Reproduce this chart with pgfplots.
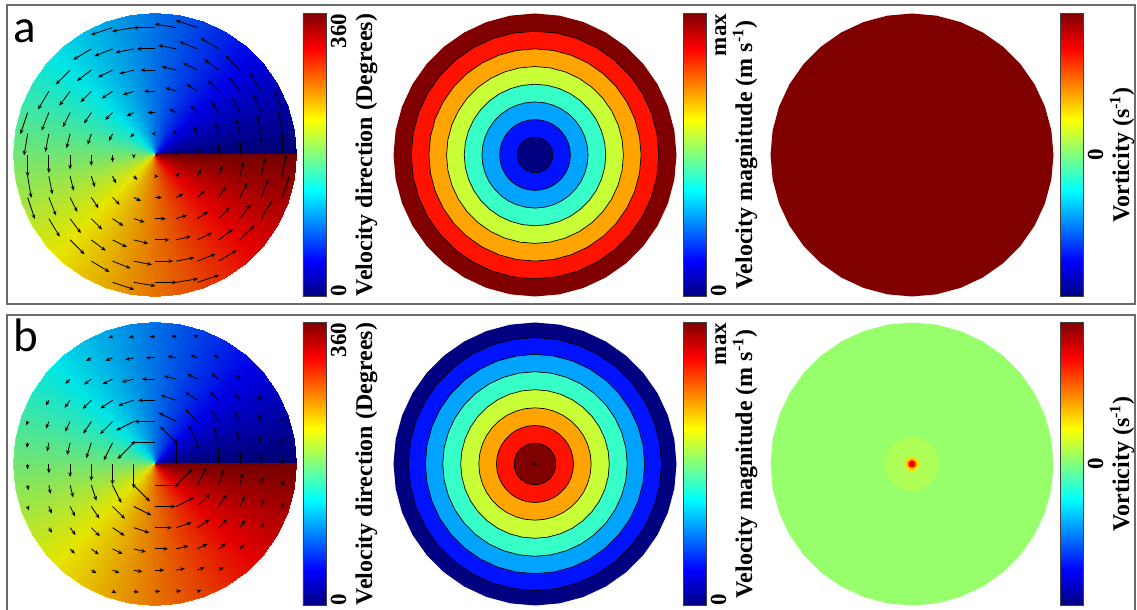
\documentclass[border=0pt]{standalone}
\usepackage{pgfplots}
\pgfplotsset{compat=1.18}
\usepackage{pgfplotstable}
\usepgfplotslibrary{patchplots}
\usetikzlibrary{arrows.meta}
\usepackage{fontspec}
\setmainfont{Liberation Serif}
\newfontfamily\letterfont{Carlito}

% jet colours of the eight contour levels (0 = lowest, 7 = highest)
\definecolor{lev0}{rgb}{0,0,0.5}
\definecolor{lev1}{rgb}{0,0.07,1}
\definecolor{lev2}{rgb}{0,0.643,1}
\definecolor{lev3}{rgb}{0.214,1,0.786}
\definecolor{lev4}{rgb}{0.786,1,0.214}
\definecolor{lev5}{rgb}{1,0.643,0}
\definecolor{lev6}{rgb}{1,0.07,0}
\definecolor{lev7}{rgb}{0.5,0,0}
\definecolor{vortzero}{rgb}{0.59,1,0.42}
\definecolor{vorthalo}{rgb}{0.68,1,0.34}
\definecolor{framegray}{rgb}{0.42,0.42,0.42}

\newcommand\titlefont{\fontsize{12}{14}\selectfont\bfseries}
\newcommand\tickfont{\fontsize{11.5}{14}\selectfont\bfseries}

% unit circle
\pgfplotstableread{
c s
1 0
0.9848 0.1736
0.9397 0.3420
0.8660 0.5
0.7660 0.6428
0.6428 0.7660
0.5 0.8660
0.3420 0.9397
0.1736 0.9848
0 1
-0.1736 0.9848
-0.3420 0.9397
-0.5 0.8660
-0.6428 0.7660
-0.7660 0.6428
-0.8660 0.5
-0.9397 0.3420
-0.9848 0.1736
-1 0
-0.9848 -0.1736
-0.9397 -0.3420
-0.8660 -0.5
-0.7660 -0.6428
-0.6428 -0.7660
-0.5 -0.8660
-0.3420 -0.9397
-0.1736 -0.9848
0 -1
0.1736 -0.9848
0.3420 -0.9397
0.5 -0.8660
0.6428 -0.7660
0.7660 -0.6428
0.8660 -0.5
0.9397 -0.3420
0.9848 -0.1736
1 0
}\circtab

% direction field: inner row and rim row, meta = direction in degrees
\pgfplotstableread{
x y m
0.01 0 0
0.0098 0.0017 10
0.0094 0.0034 20
0.0087 0.005 30
0.0077 0.0064 40
0.0064 0.0077 50
0.005 0.0087 60
0.0034 0.0094 70
0.0017 0.0098 80
0 0.01 90
-0.0017 0.0098 100
-0.0034 0.0094 110
-0.005 0.0087 120
-0.0064 0.0077 130
-0.0077 0.0064 140
-0.0087 0.005 150
-0.0094 0.0034 160
-0.0098 0.0017 170
-0.01 0 180
-0.0098 -0.0017 190
-0.0094 -0.0034 200
-0.0087 -0.005 210
-0.0077 -0.0064 220
-0.0064 -0.0077 230
-0.005 -0.0087 240
-0.0034 -0.0094 250
-0.0017 -0.0098 260
0 -0.01 270
0.0017 -0.0098 280
0.0034 -0.0094 290
0.005 -0.0087 300
0.0064 -0.0077 310
0.0077 -0.0064 320
0.0087 -0.005 330
0.0094 -0.0034 340
0.0098 -0.0017 350
0.01 0 360
1 0 0
0.9848 0.1736 10
0.9397 0.3420 20
0.8660 0.5 30
0.7660 0.6428 40
0.6428 0.7660 50
0.5 0.8660 60
0.3420 0.9397 70
0.1736 0.9848 80
0 1 90
-0.1736 0.9848 100
-0.3420 0.9397 110
-0.5 0.8660 120
-0.6428 0.7660 130
-0.7660 0.6428 140
-0.8660 0.5 150
-0.9397 0.3420 160
-0.9848 0.1736 170
-1 0 180
-0.9848 -0.1736 190
-0.9397 -0.3420 200
-0.8660 -0.5 210
-0.7660 -0.6428 220
-0.6428 -0.7660 230
-0.5 -0.8660 240
-0.3420 -0.9397 250
-0.1736 -0.9848 260
0 -1 270
0.1736 -0.9848 280
0.3420 -0.9397 290
0.5 -0.8660 300
0.6428 -0.7660 310
0.7660 -0.6428 320
0.8660 -0.5 330
0.9397 -0.3420 340
0.9848 -0.1736 350
1 0 360
}\dirtab

% velocity vectors: (ua,va) solid-body rotation, (ub,vb) concentrated vortex
\pgfplotstableread{
x y ua va ub vb
-0.9 -0.3 2 -6 0.062 -0.185
-0.9 -0.15 1 -6 0.039 -0.235
-0.9 0 0 -6 0 -0.253
-0.9 0.15 -1 -6 -0.039 -0.235
-0.9 0.3 -2 -6 -0.062 -0.185
-0.75 -0.45 3 -5 0.146 -0.243
-0.75 -0.3 2 -5 0.135 -0.338
-0.75 -0.15 1 -5 0.082 -0.408
-0.75 0 0 -5 0 -0.435
-0.75 0.15 -1 -5 -0.082 -0.408
-0.75 0.3 -2 -5 -0.135 -0.338
-0.75 0.45 -3 -5 -0.146 -0.243
-0.6 -0.6 4 -4 0.223 -0.223
-0.6 -0.45 3 -4 0.261 -0.348
-0.6 -0.3 2 -4 0.236 -0.472
-0.6 -0.15 1 -4 0.143 -0.572
-0.6 0 0 -4 0 -0.612
-0.6 0.15 -1 -4 -0.143 -0.572
-0.6 0.3 -2 -4 -0.236 -0.472
-0.6 0.45 -3 -4 -0.261 -0.348
-0.6 0.6 -4 -4 -0.223 -0.223
-0.45 -0.75 5 -3 0.243 -0.146
-0.45 -0.6 4 -3 0.348 -0.261
-0.45 -0.45 3 -3 0.402 -0.402
-0.45 -0.3 2 -3 0.380 -0.570
-0.45 -0.15 1 -3 0.242 -0.726
-0.45 0 0 -3 0 -0.792
-0.45 0.15 -1 -3 -0.242 -0.726
-0.45 0.3 -2 -3 -0.380 -0.570
-0.45 0.45 -3 -3 -0.402 -0.402
-0.45 0.6 -4 -3 -0.348 -0.261
-0.45 0.75 -5 -3 -0.243 -0.146
-0.3 -0.9 6 -2 0.185 -0.062
-0.3 -0.75 5 -2 0.338 -0.135
-0.3 -0.6 4 -2 0.472 -0.236
-0.3 -0.45 3 -2 0.570 -0.380
-0.3 -0.3 2 -2 0.582 -0.582
-0.3 -0.15 1 -2 0.416 -0.832
-0.3 0 0 -2 0 -0.974
-0.3 0.15 -1 -2 -0.416 -0.832
-0.3 0.3 -2 -2 -0.582 -0.582
-0.3 0.45 -3 -2 -0.570 -0.380
-0.3 0.6 -4 -2 -0.472 -0.236
-0.3 0.75 -5 -2 -0.338 -0.135
-0.3 0.9 -6 -2 -0.185 -0.062
-0.15 -0.9 6 -1 0.235 -0.039
-0.15 -0.75 5 -1 0.408 -0.082
-0.15 -0.6 4 -1 0.572 -0.143
-0.15 -0.45 3 -1 0.726 -0.242
-0.15 -0.3 2 -1 0.832 -0.416
-0.15 -0.15 1 -1 0.763 -0.763
-0.15 0 0 -1 0 -1.153
-0.15 0.15 -1 -1 -0.763 -0.763
-0.15 0.3 -2 -1 -0.832 -0.416
-0.15 0.45 -3 -1 -0.726 -0.242
-0.15 0.6 -4 -1 -0.572 -0.143
-0.15 0.75 -5 -1 -0.408 -0.082
-0.15 0.9 -6 -1 -0.235 -0.039
0 -0.9 6 0 0.253 0
0 -0.75 5 0 0.435 0
0 -0.6 4 0 0.612 0
0 -0.45 3 0 0.792 0
0 -0.3 2 0 0.974 0
0 -0.15 1 0 1.153 0
0 0.15 -1 0 -1.153 0
0 0.3 -2 0 -0.974 0
0 0.45 -3 0 -0.792 0
0 0.6 -4 0 -0.612 0
0 0.75 -5 0 -0.435 0
0 0.9 -6 0 -0.253 0
0.15 -0.9 6 1 0.235 0.039
0.15 -0.75 5 1 0.408 0.082
0.15 -0.6 4 1 0.572 0.143
0.15 -0.45 3 1 0.726 0.242
0.15 -0.3 2 1 0.832 0.416
0.15 -0.15 1 1 0.763 0.763
0.15 0 0 1 0 1.153
0.15 0.15 -1 1 -0.763 0.763
0.15 0.3 -2 1 -0.832 0.416
0.15 0.45 -3 1 -0.726 0.242
0.15 0.6 -4 1 -0.572 0.143
0.15 0.75 -5 1 -0.408 0.082
0.15 0.9 -6 1 -0.235 0.039
0.3 -0.9 6 2 0.185 0.062
0.3 -0.75 5 2 0.338 0.135
0.3 -0.6 4 2 0.472 0.236
0.3 -0.45 3 2 0.570 0.380
0.3 -0.3 2 2 0.582 0.582
0.3 -0.15 1 2 0.416 0.832
0.3 0 0 2 0 0.974
0.3 0.15 -1 2 -0.416 0.832
0.3 0.3 -2 2 -0.582 0.582
0.3 0.45 -3 2 -0.570 0.380
0.3 0.6 -4 2 -0.472 0.236
0.3 0.75 -5 2 -0.338 0.135
0.3 0.9 -6 2 -0.185 0.062
0.45 -0.75 5 3 0.243 0.146
0.45 -0.6 4 3 0.348 0.261
0.45 -0.45 3 3 0.402 0.402
0.45 -0.3 2 3 0.380 0.570
0.45 -0.15 1 3 0.242 0.726
0.45 0 0 3 0 0.792
0.45 0.15 -1 3 -0.242 0.726
0.45 0.3 -2 3 -0.380 0.570
0.45 0.45 -3 3 -0.402 0.402
0.45 0.6 -4 3 -0.348 0.261
0.45 0.75 -5 3 -0.243 0.146
0.6 -0.6 4 4 0.223 0.223
0.6 -0.45 3 4 0.261 0.348
0.6 -0.3 2 4 0.236 0.472
0.6 -0.15 1 4 0.143 0.572
0.6 0 0 4 0 0.612
0.6 0.15 -1 4 -0.143 0.572
0.6 0.3 -2 4 -0.236 0.472
0.6 0.45 -3 4 -0.261 0.348
0.6 0.6 -4 4 -0.223 0.223
0.75 -0.45 3 5 0.146 0.243
0.75 -0.3 2 5 0.135 0.338
0.75 -0.15 1 5 0.082 0.408
0.75 0 0 5 0 0.435
0.75 0.15 -1 5 -0.082 0.408
0.75 0.3 -2 5 -0.135 0.338
0.75 0.45 -3 5 -0.146 0.243
0.9 -0.3 2 6 0.062 0.185
0.9 -0.15 1 6 0.039 0.235
0.9 0 0 6 0 0.253
0.9 0.15 -1 6 -0.039 0.235
0.9 0.3 -2 6 -0.062 0.185
}\arrtab

\pgfplotsset{
  fieldaxis/.style={
    scale only axis, width=141.5pt, height=141.5pt,
    xmin=-1, xmax=1, ymin=-1, ymax=1,
    axis lines=none, xtick=\empty, ytick=\empty,
    clip=false, anchor=center,
    colormap/jet,
    colorbar shift/.style={},
    colorbar,
    colorbar style={
      at={(parent axis.north east)}, anchor=north west, xshift=3.25pt,
      scale only axis, width=11.5pt, height=141.5pt,
      axis lines=box, xtick=\empty, ytick=\empty,
      axis line style={draw=black!75, line width=0.4pt},
    },
  },
  ring/.style={fill=#1, draw=black, line width=0.35pt},
  arrowfield/.style={black, line width=0.4pt, -{Stealth[length=2.3pt,width=1.9pt]}},
  dirfield/.style={surf, shader=interp, patch type=bilinear, mesh/cols=37, point meta=explicit},
  % darkening left by the fine cell grid of the gridded field
  gridshade/.style={fill=black, fill opacity=0.1, draw=none},
}

\begin{document}
\begin{tikzpicture}
\useasboundingbox (0,0) rectangle (568.5pt,305pt);

% panel frames
\draw[framegray, line width=1pt] (3.5pt,153pt) rectangle (567.5pt,302.5pt);
\draw[framegray, line width=1pt] (3.5pt,-5pt) rectangle (567.5pt,147.5pt);

\node[anchor=base west, inner sep=0pt, font=\letterfont\fontsize{23.5}{28}\selectfont] at (6.3pt,283.5pt) {a};
\node[anchor=base west, inner sep=0pt, font=\letterfont\fontsize{23.5}{28}\selectfont] at (6.3pt,129pt) {b};

% ---------- row a ----------
\begin{axis}[fieldaxis, at={(77.5pt,227.5pt)}, point meta min=0, point meta max=360]
  \addplot[dirfield] table[x=x, y=y, meta=m] {\dirtab};
  \addplot[gridshade] table[x=c, y=s] {\circtab};
  \addplot[arrowfield, quiver={u=\thisrow{ua}, v=\thisrow{va}, scale arrows=0.0255}] table[x=x, y=y] {\arrtab};
\end{axis}

\begin{axis}[fieldaxis, at={(267.5pt,227.5pt)}, point meta min=0, point meta max=1]
  \addplot[fill=lev7, draw=none] table[x=c, y=s] {\circtab};
  \addplot[ring=lev6] table[x expr=0.875*\thisrow{c}, y expr=0.875*\thisrow{s}] {\circtab};
  \addplot[ring=lev5] table[x expr=0.75*\thisrow{c}, y expr=0.75*\thisrow{s}] {\circtab};
  \addplot[ring=lev4] table[x expr=0.625*\thisrow{c}, y expr=0.625*\thisrow{s}] {\circtab};
  \addplot[ring=lev3] table[x expr=0.5*\thisrow{c}, y expr=0.5*\thisrow{s}] {\circtab};
  \addplot[ring=lev2] table[x expr=0.375*\thisrow{c}, y expr=0.375*\thisrow{s}] {\circtab};
  \addplot[ring=lev1] table[x expr=0.25*\thisrow{c}, y expr=0.25*\thisrow{s}] {\circtab};
  \addplot[ring=lev0] table[x expr=0.125*\thisrow{c}, y expr=0.125*\thisrow{s}] {\circtab};
\end{axis}

\begin{axis}[fieldaxis, at={(456pt,227.5pt)}, point meta min=-1, point meta max=1]
  \addplot[fill=lev7, draw=none] table[x=c, y=s] {\circtab};
\end{axis}

% ---------- row b ----------
\begin{axis}[fieldaxis, at={(77.5pt,73pt)}, point meta min=0, point meta max=360]
  \addplot[dirfield] table[x=x, y=y, meta=m] {\dirtab};
  \addplot[gridshade] table[x=c, y=s] {\circtab};
  \addplot[arrowfield, quiver={u=\thisrow{ub}, v=\thisrow{vb}, scale arrows=0.15}] table[x=x, y=y] {\arrtab};
\end{axis}

\begin{axis}[fieldaxis, at={(267.5pt,73pt)}, point meta min=0, point meta max=1]
  \addplot[fill=lev0, draw=none] table[x=c, y=s] {\circtab};
  \addplot[ring=lev1] table[x expr=0.894*\thisrow{c}, y expr=0.894*\thisrow{s}] {\circtab};
  \addplot[ring=lev2] table[x expr=0.775*\thisrow{c}, y expr=0.775*\thisrow{s}] {\circtab};
  \addplot[ring=lev3] table[x expr=0.652*\thisrow{c}, y expr=0.652*\thisrow{s}] {\circtab};
  \addplot[ring=lev4] table[x expr=0.525*\thisrow{c}, y expr=0.525*\thisrow{s}] {\circtab};
  \addplot[ring=lev5] table[x expr=0.397*\thisrow{c}, y expr=0.397*\thisrow{s}] {\circtab};
  \addplot[ring=lev6] table[x expr=0.272*\thisrow{c}, y expr=0.272*\thisrow{s}] {\circtab};
  \addplot[ring=lev7] table[x expr=0.147*\thisrow{c}, y expr=0.147*\thisrow{s}] {\circtab};
  \addplot[only marks, mark=*, mark size=0.7pt, black] coordinates {(0,0)};
\end{axis}

\begin{axis}[fieldaxis, at={(456pt,73pt)}, point meta min=-1, point meta max=1]
  \addplot[fill=vortzero, draw=none] table[x=c, y=s] {\circtab};
  \addplot[fill=vorthalo, draw=none] table[x expr=0.19*\thisrow{c}, y expr=0.19*\thisrow{s}] {\circtab};
  \addplot[fill={rgb,1:red,1;green,0.85;blue,0}, draw=none] table[x expr=0.05*\thisrow{c}, y expr=0.05*\thisrow{s}] {\circtab};
  \addplot[fill={rgb,1:red,1;green,0.45;blue,0}, draw=none] table[x expr=0.032*\thisrow{c}, y expr=0.032*\thisrow{s}] {\circtab};
  \addplot[fill=red, draw=none] table[x expr=0.022*\thisrow{c}, y expr=0.022*\thisrow{s}] {\circtab};
  \addplot[fill=lev7, draw=none] table[x expr=0.01*\thisrow{c}, y expr=0.01*\thisrow{s}] {\circtab};
\end{axis}

% ---------- colour bar labels ----------
\foreach \yc/\yb/\yt in {227.5/156.75/298.25, 73/2.25/143.75} {
  \node[rotate=90, anchor=base west, inner sep=0pt, font=\tickfont] at (173pt,\yb pt) {0};
  \node[rotate=90, anchor=base east, inner sep=0pt, font=\tickfont] at (173pt,\yt pt) {360};
  \node[rotate=90, anchor=base, inner sep=0pt, font=\titlefont] at (186pt,\yc pt) {Velocity direction (Degrees)};
  \node[rotate=90, anchor=base west, inner sep=0pt, font=\tickfont] at (363pt,\yb pt) {0};
  \node[rotate=90, anchor=base east, inner sep=0pt, font=\tickfont] at (363pt,\yt pt) {max};
  \node[rotate=90, anchor=base, inner sep=0pt, font=\titlefont] at (376pt,\yc pt) {Velocity magnitude (m s\textsuperscript{-1})};
  \node[rotate=90, anchor=base, inner sep=0pt, font=\tickfont] at (551.5pt,\yc pt) {0};
  \node[rotate=90, anchor=base, inner sep=0pt, font=\titlefont] at (564.5pt,\yc pt) {Vorticity (s\textsuperscript{-1})};
}
\end{tikzpicture}
\end{document}
